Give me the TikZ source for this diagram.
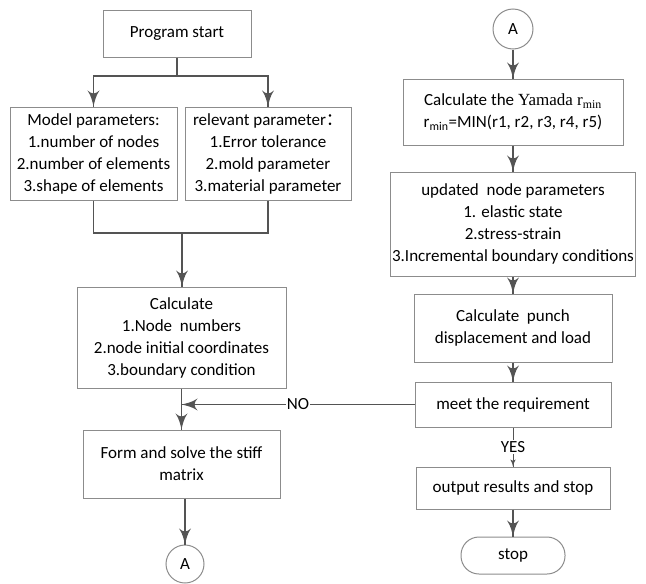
\documentclass[tikz,border=0pt]{standalone}
\usepackage{fontspec}
\setmainfont{Carlito}
\newfontfamily\yamadafont{Liberation Serif}
\newfontfamily\cjk{Noto Sans CJK SC}
\usetikzlibrary{arrows}
\usetikzlibrary{decorations.markings}
\definecolor{boxgray}{rgb}{0.55, 0.55, 0.55}
\definecolor{linegray}{rgb}{0.33, 0.33, 0.33}
\tikzset{->/.style = {decoration={markings,
                                  mark=at position 1 with {\arrow[scale=2.2]{latex'}}},
                      postaction={decorate}}}
\tikzset{smallarrow/.style = {decoration={markings,
                                  mark=at position 1 with {\arrow[scale=1.2]{latex'}}},
                      postaction={decorate}}}
\tikzset{box/.style = {draw=boxgray, line width=1pt, align=center, inner sep=2pt,
                       font=\fontsize{17}{22}\selectfont}}
\tikzset{conn/.style = {draw=linegray, line width=1.5pt}}

\begin{document}
\begin{tikzpicture}[x=1pt, y=-1pt]
    \useasboundingbox (0, 0) rectangle (646, 584);

    % left column
    \node [box, minimum width=148pt, minimum height=47pt] (start) at (177, 33.5) {Program start};
    \node [box, minimum width=167pt, minimum height=93pt] (model) at (93.5, 153.5)
        {Model parameters:\\1.number of nodes\\2.number of elements\\3.shape of elements};
    \node [box, minimum width=166pt, minimum height=93pt] (relev) at (268, 153.5)
        {relevant parameter{\cjk ：}\\1.Error tolerance\\2.mold parameter\\3.material parameter};
    \node [box, minimum width=209pt, minimum height=101pt] (calc) at (181.5, 337.5)
        {Calculate\\1.Node\ \ numbers\\2.node initial coordinates\\3.boundary condition};
    \node [box, minimum width=197pt, minimum height=68pt] (form) at (181.5, 464)
        {Form and solve the stiff\\matrix};
    \node [box, circle, minimum size=38pt, inner sep=0pt] (endA) at (185, 564) {A};

    % right column
    \node [box, circle, minimum size=40pt, inner sep=0pt] (topA) at (513, 29) {A};
    \node [box, minimum width=220pt, minimum height=66pt] (yamada) at (513, 112)
        {Calculate the {\yamadafont Yamada r\textsubscript{min}}\\r\textsubscript{min}=MIN(r1, r2, r3, r4, r5)};
    \node [box, minimum width=232pt, minimum height=104pt] (update) at (513, 224)
        {updated\ \ node parameters\\1. elastic state\\2.stress-strain\\3.Incremental boundary conditions};
    \node [box, minimum width=198pt, minimum height=68pt] (punch) at (513, 328)
        {Calculate\ \ punch\\displacement and load};
    \node [box, minimum width=196pt, minimum height=45pt] (meet) at (513, 404.5) {meet the requirement};
    \node [box, minimum width=194pt, minimum height=42pt] (output) at (513, 488) {output results and stop};
    \node [box, rounded corners=18pt, minimum width=104pt, minimum height=37pt] (stop) at (513, 555.5) {stop};

    \coordinate (split) at (177, 76);
    \coordinate (merge) at (182, 233);
    \coordinate (join) at (calc.south |- meet.west);

    \draw [conn] (start) -- (split);
    \draw [conn, ->] (split) -| (model.north);
    \draw [conn, ->] (split) -| (relev.north);
    \draw [conn] (model.south) |- (merge);
    \draw [conn] (relev.south) |- (merge);
    \draw [conn, ->] (merge) -- (calc.north -| merge);
    \draw [conn, ->] (calc) -- (form);
    \draw [conn, ->] (form.south -| endA) -- (endA);

    \draw [conn, ->] (topA) -- (yamada);
    \draw [conn, ->] (yamada) -- (update);
    \draw [conn, ->] (update) -- (punch);
    \draw [conn, ->] (punch) -- (meet);
    \draw [conn, ->] (meet) -- (join)
        node [pos=0.5, fill=white, inner sep=1pt, text=black, font=\fontsize{17}{22}\selectfont] {NO};
    \draw [draw=linegray, line width=1pt, smallarrow] (meet) -- (output)
        node [midway, fill=white, inner sep=1pt, text=black, font=\fontsize{17}{22}\selectfont] {YES};
    \draw [conn, ->] (output) -- (stop);
  \end{tikzpicture}
\end{document}
